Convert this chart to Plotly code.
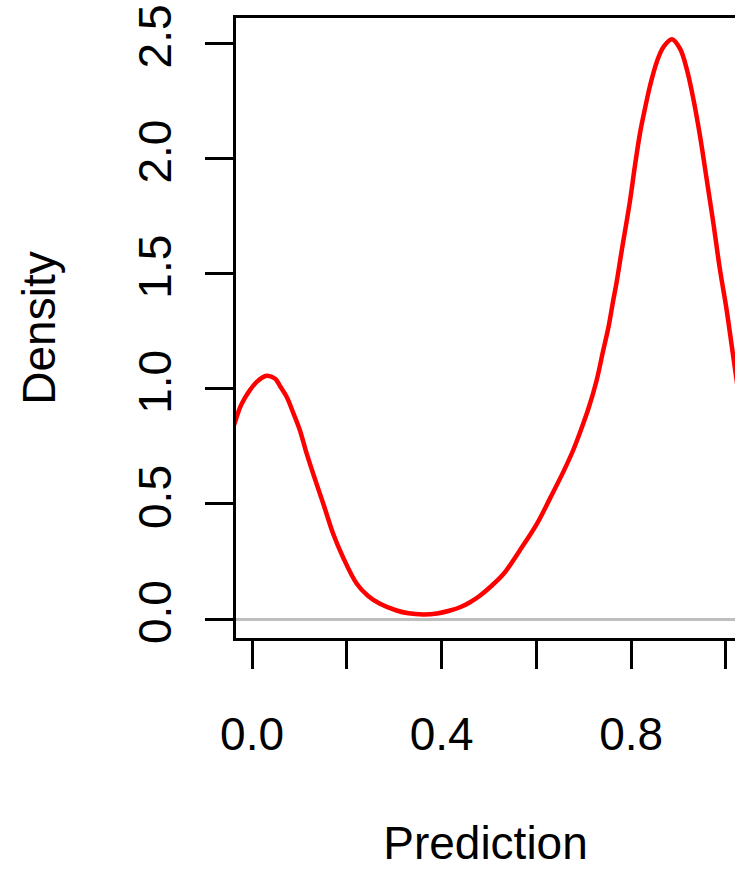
import plotly.graph_objects as go

# Density curve
prediction = [-0.04, -0.035, -0.025, -0.015, -0.004, 0.010, 0.031, 0.049, 0.059, 0.073,
              0.087, 0.101, 0.115, 0.136, 0.154, 0.171, 0.192, 0.221, 0.245, 0.270,
              0.305, 0.330, 0.361, 0.390, 0.418, 0.440, 0.460, 0.480, 0.502, 0.530,
              0.565, 0.601, 0.629, 0.657, 0.678, 0.692, 0.710, 0.727, 0.741, 0.752,
              0.762, 0.769, 0.780, 0.797, 0.808, 0.819, 0.829, 0.840, 0.854, 0.868,
              0.886, 0.903, 0.917, 0.931, 0.945, 0.959, 0.973, 0.987, 1.001, 1.014,
              1.025]
density = [0.83, 0.86, 0.92, 0.96, 0.995, 1.03, 1.056, 1.043, 1.012, 0.965,
           0.895, 0.82, 0.72, 0.588, 0.478, 0.371, 0.268, 0.153, 0.100, 0.066,
           0.037, 0.025, 0.020, 0.024, 0.037, 0.052, 0.073, 0.100, 0.138, 0.194,
           0.298, 0.413, 0.525, 0.640, 0.735, 0.810, 0.915, 1.036, 1.167, 1.267,
           1.383, 1.460, 1.600, 1.810, 1.970, 2.115, 2.216, 2.318, 2.419, 2.484,
           2.518, 2.477, 2.390, 2.260, 2.100, 1.913, 1.724, 1.521, 1.347, 1.159,
           1.000]

x_tick_vals = [0.0, 0.2, 0.4, 0.6, 0.8, 1.0]
x_tick_text = ["0.0", "", "0.4", "", "0.8", ""]
y_tick_vals = [0.0, 0.5, 1.0, 1.5, 2.0, 2.5]
y_tick_text = ["0.0", "0.5", "1.0", "1.5", "2.0", "2.5"]

fig = go.Figure()
fig.add_trace(go.Scatter(
    x=prediction, y=density, mode="lines",
    line=dict(color="#FF0000", width=4.5, shape="spline"),
    hoverinfo="skip", showlegend=False,
))

fig.update_layout(
    width=735, height=869,
    margin=dict(l=236, r=0, t=18, b=231),
    plot_bgcolor="white", paper_bgcolor="white",
    showlegend=False,
    font=dict(family="Liberation Sans, Arial, sans-serif", size=46, color="black"),
)

fig.update_xaxes(
    range=[-0.0338, 1.019],
    tickmode="array", tickvals=x_tick_vals, ticktext=x_tick_text,
    ticks="outside", ticklen=28, tickwidth=3, tickcolor="black",
    showline=True, linewidth=3, linecolor="black", mirror=True,
    showgrid=False, zeroline=False,
    ticklabelstandoff=26,
    tickfont=dict(size=46),
    title=dict(text="Prediction", standoff=93, font=dict(size=46)),
    automargin=False,
)

fig.update_yaxes(
    range=[-0.0825, 2.61],
    tickmode="array", tickvals=y_tick_vals, ticktext=y_tick_text,
    ticks="outside", ticklen=28, tickwidth=3, tickcolor="black",
    tickangle=-90,
    showline=True, linewidth=3, linecolor="black", mirror=True,
    showgrid=False,
    zeroline=True, zerolinecolor="#BEBEBE", zerolinewidth=2.5,
    ticklabelstandoff=16,
    tickfont=dict(size=46),
    title=dict(text="Density", standoff=59, font=dict(size=46)),
    automargin=False,
)

fig.write_html(
    "out.html",
    config={"displayModeBar": False},
    post_script="document.body.style.margin='0';document.body.style.overflow='hidden';",
)
